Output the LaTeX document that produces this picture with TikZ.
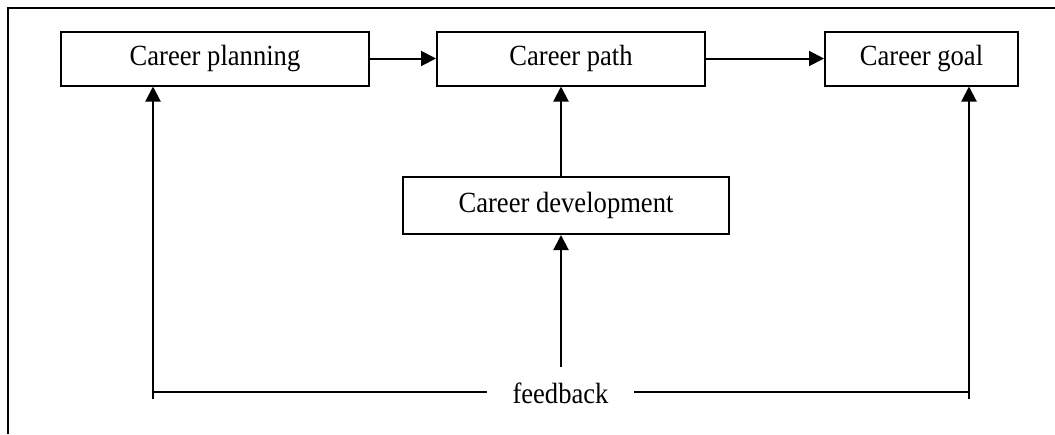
\documentclass[tikz,border=0pt]{standalone}
\usepackage{fontspec}
\setmainfont{Liberation Serif}
\usetikzlibrary{arrows.meta}
\newcommand{\tall}[1]{\scalebox{1}[1.1]{#1}}
\begin{document}
\begin{tikzpicture}[x=0.5pt,y=-0.5pt,
  box/.style={draw,line width=1pt,rectangle,inner sep=0pt,minimum height=27pt,font=\fontsize{13.3}{16}\selectfont},
  arr/.style={line width=1pt,-{Triangle[length=7.5pt,width=7.5pt]}},
  ln/.style={line width=1pt}]
\useasboundingbox (0,0) rectangle (1055,434);
\draw[ln] (1055,8) -- (8,8) -- (8,434);
\node[box,minimum width=154pt] (plan) at (215,58.5) {\tall{Career planning}};
\node[box,minimum width=134pt] (path) at (571,58.5) {\tall{Career path}};
\node[box,minimum width=96.5pt] (goal) at (921.5,58.5) {\tall{Career goal}};
\node[box,minimum width=163pt,minimum height=28.5pt] (dev) at (566,205.5) {\tall{Career development}};
\node[font=\fontsize{13.3}{16}\selectfont,inner sep=0pt,minimum width=73.5pt] (fb) at (560.5,393) {\tall{feedback}};
\coordinate (fbL) at (153,399);
\coordinate (fbR) at (969,399);
\coordinate (fbM) at (561,367);
\draw[arr] (plan) -- (path);
\draw[arr] (path) -- (goal);
\draw[arr] (dev.north -| fbM) -- (path.south -| fbM);
\draw[arr] (fbM) -- (dev.south -| fbM);
\draw[arr] (fbL) -- (plan.south -| fbL);
\draw[arr] (fbR) -- (goal.south -| fbR);
\draw[ln] (153,392) -- (fb.west |- 0,392);
\draw[ln] (fb.east |- 0,392) -- (969,392);
\end{tikzpicture}
\end{document}
